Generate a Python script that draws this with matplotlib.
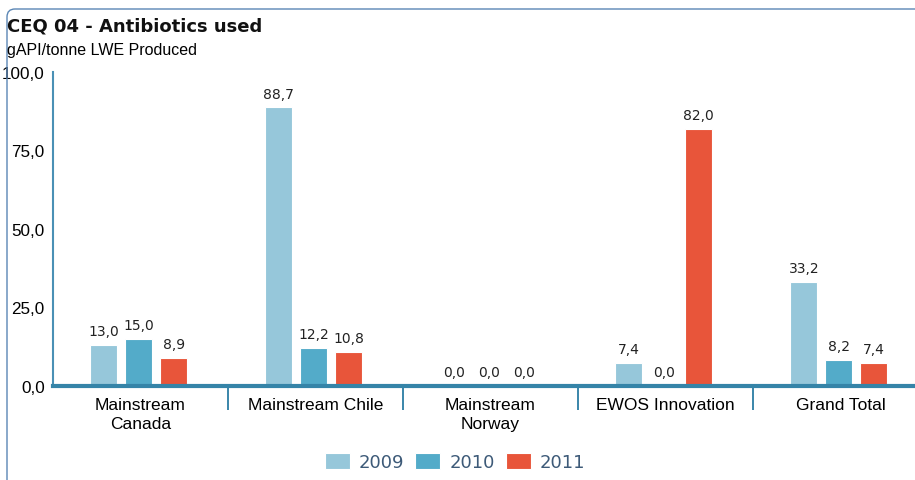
import numpy as np
import matplotlib
matplotlib.use('Agg')
import matplotlib.pyplot as plt
import matplotlib.patches as patch
from matplotlib.transforms import IdentityTransform

categories = ['Mainstream\nCanada', 'Mainstream Chile', 'Mainstream\nNorway',
              'EWOS Innovation', 'Grand Total']
years = ['2009', '2010', '2011']
v2009 = [13.0, 88.7, 0.0, 7.4, 33.2]
v2010 = [15.0, 12.2, 0.0, 0.0, 8.2]
v2011 = [8.9, 10.8, 0.0, 82.0, 7.4]
yticks = [0, 25, 50, 75, 100]

colors = ['#96c7da', '#53abc9', '#e8553a']
series = [v2009, v2010, v2011]

fig = plt.figure(figsize=(9.15, 4.81), dpi=100)
ax = fig.add_axes([53/915, 94/481, 875/915, 314/481])

x = np.arange(len(categories))
w = 0.155
offs = [-0.21, -0.01, 0.19]
for vals, c, o, yr in zip(series, colors, offs, years):
    bars = ax.bar(x + o, vals, w, color=c, edgecolor='white', linewidth=0.8, label=yr, zorder=2)
    for b, v in zip(bars, vals):
        ax.annotate(('%.1f' % v).replace('.', ','), (b.get_x() + b.get_width()/2, v),
                    xytext=(0, 5), textcoords='offset points', ha='center', va='bottom',
                    fontsize=10, family='DejaVu Sans', color='#222222')

ax.set_xlim(-0.5, 4.5)
ax.set_ylim(0, 100)
ax.set_yticks(yticks)
ax.set_yticklabels([('%.1f' % t).replace('.', ',') for t in yticks],
                   family='Liberation Sans', fontsize=12.3)
ax.tick_params(axis='y', length=0, pad=6)
ax.set_xticks(x)
ax.set_xticklabels(categories, family='Liberation Sans', fontsize=12.5, linespacing=1.3)
ax.set_xticks(x[:-1] + 0.5, minor=True)
ax.tick_params(axis='x', which='major', length=0, pad=8)
ax.tick_params(axis='x', which='minor', length=17, width=1.4, color='#3a86aa', direction='out')

for s in ['top', 'right']:
    ax.spines[s].set_visible(False)
ax.spines['left'].set_color('#4a90b5')
ax.spines['left'].set_linewidth(1.5)
ax.spines['bottom'].set_color('#3584a8')
ax.spines['bottom'].set_linewidth(3)
ax.spines['bottom'].set_zorder(3)

fig.text(7/915, 1 - 26/481, 'CEQ 04 - Antibiotics used', fontsize=13, fontweight='bold',
         family='DejaVu Sans', va='center', ha='left', color='#111111')
fig.text(7/915, 1 - 51/481, 'gAPI/tonne LWE Produced', fontsize=11.5,
         family='Liberation Sans', va='center', ha='left')

leg = fig.legend(loc='center', bbox_to_anchor=(455/915, 1 - 463/481), ncol=3, frameon=False,
                 prop={'family': 'DejaVu Sans', 'size': 13}, handlelength=1.4, handleheight=1.0,
                 handletextpad=0.5, columnspacing=0.6)
for t in leg.get_texts():
    t.set_color('#3d5a78')

border = patch.FancyBboxPatch((7, -30), 940, 481 - 10 + 30,
                              boxstyle='round,pad=0,rounding_size=8', fill=False,
                              ec='#5b86b5', lw=1, transform=IdentityTransform())
fig.add_artist(border)

plt.savefig('out.png', dpi=100)
